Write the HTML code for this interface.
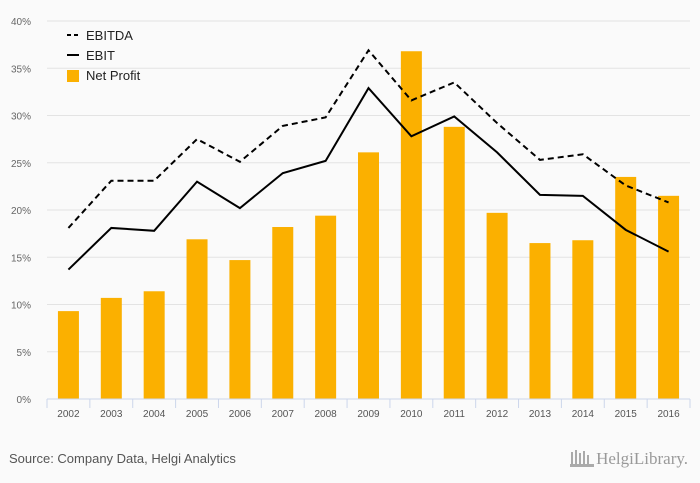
<!DOCTYPE html>
<html><head><meta charset="utf-8"><style>
body{margin:0;background:#fafafa;font-family:"Liberation Sans",sans-serif}
svg{display:block}
</style></head><body>
<svg id="c" width="700" height="483" xmlns="http://www.w3.org/2000/svg">
<rect width="700" height="483" fill="#fafafa"/>
<g id="grid"></g><g id="bars"></g><g id="lines"></g><g id="axes"></g>
<g font-size="13" fill="#222">
<line x1="67" y1="35" x2="79" y2="35" stroke="#000" stroke-width="2" stroke-dasharray="4,3"/>
<text x="86" y="40">EBITDA</text>
<line x1="67" y1="55" x2="79" y2="55" stroke="#000" stroke-width="2"/>
<text x="86" y="60">EBIT</text>
<rect x="67" y="70" width="12" height="12" fill="#fbb000"/>
<text x="86" y="80">Net Profit</text>
</g>
<text x="9" y="463" font-size="13" fill="#555">Source: Company Data, Helgi Analytics</text>
<text x="688" y="464" font-size="17" fill="#999" text-anchor="end" font-family="Liberation Serif,serif">HelgiLibrary.</text>
<g fill="#aaa"><rect x="571" y="452" width="2" height="14"/><rect x="575" y="450" width="2" height="16"/><rect x="579" y="453" width="2" height="13"/><rect x="583" y="451" width="2" height="15"/><rect x="587" y="455" width="2" height="11"/><rect x="570" y="464" width="24" height="3"/></g>
</svg>
<script>
const years=["2002","2003","2004","2005","2006","2007","2008","2009","2010","2011","2012","2013","2014","2015","2016"];
const netProfit=[9.3,10.7,11.4,16.9,14.7,18.2,19.4,26.1,36.8,28.8,19.7,16.5,16.8,23.5,21.5];
const ebitda=[18.1,23.1,23.1,27.5,25.1,28.9,29.8,36.9,31.6,33.5,29.2,25.3,25.9,22.6,20.8];
const ebit=[13.7,18.1,17.8,23.0,20.2,23.9,25.2,32.9,27.8,29.9,26.1,21.6,21.5,17.9,15.6];
const yTicks=[0,5,10,15,20,25,30,35,40];
const NS="http://www.w3.org/2000/svg";
const X0=47,X1=690,Y0=399,Y1=21;
const step=(X1-X0)/years.length;
const xc=i=>X0+step*(i+0.5);
const y=v=>Y0-(v/40)*(Y0-Y1);
function mk(t,a,p){const e=document.createElementNS(NS,t);for(const k in a)e.setAttribute(k,a[k]);p.appendChild(e);return e;}
const grid=document.getElementById('grid'),axes=document.getElementById('axes');
yTicks.forEach(v=>{
 if(v>0){const l=mk('line',{x1:X0,x2:X1,y1:y(v),y2:y(v),stroke:'#e3e3e3'},grid);
 
 }
 const t=mk('text',{x:31,y:y(v)+4,'font-size':10,fill:'#666','text-anchor':'end'},axes);t.textContent=v+'%';
 
 
});
const ax=mk('line',{x1:X0,x2:X1,y1:Y0,y2:Y0,stroke:'#ccd6eb'},axes);


for(let i=0;i<=years.length;i++){const tk=mk('line',{x1:X0+step*i,x2:X0+step*i,y1:Y0,y2:Y0+9,stroke:'#ccd6eb'},axes);
 
 }
const bars=document.getElementById('bars');
years.forEach((yr,i)=>{
 const b=mk('rect',{x:xc(i)-10.5,y:y(netProfit[i]),width:21,height:Y0-y(netProfit[i]),fill:'#fbb000'},bars);
 
 
 const t=mk('text',{x:xc(i),y:417,'font-size':10,fill:'#555','text-anchor':'middle'},axes);t.textContent=yr;
 
 
});
const lines=document.getElementById('lines');
const pts=a=>a.map((v,i)=>xc(i)+','+y(v)).join(' ');
const l1=mk('polyline',{points:pts(ebitda),fill:'none',stroke:'#000','stroke-width':2,'stroke-dasharray':'6,4'},lines);


const l2=mk('polyline',{points:pts(ebit),fill:'none',stroke:'#000','stroke-width':2},lines);


</script>
</body></html>
